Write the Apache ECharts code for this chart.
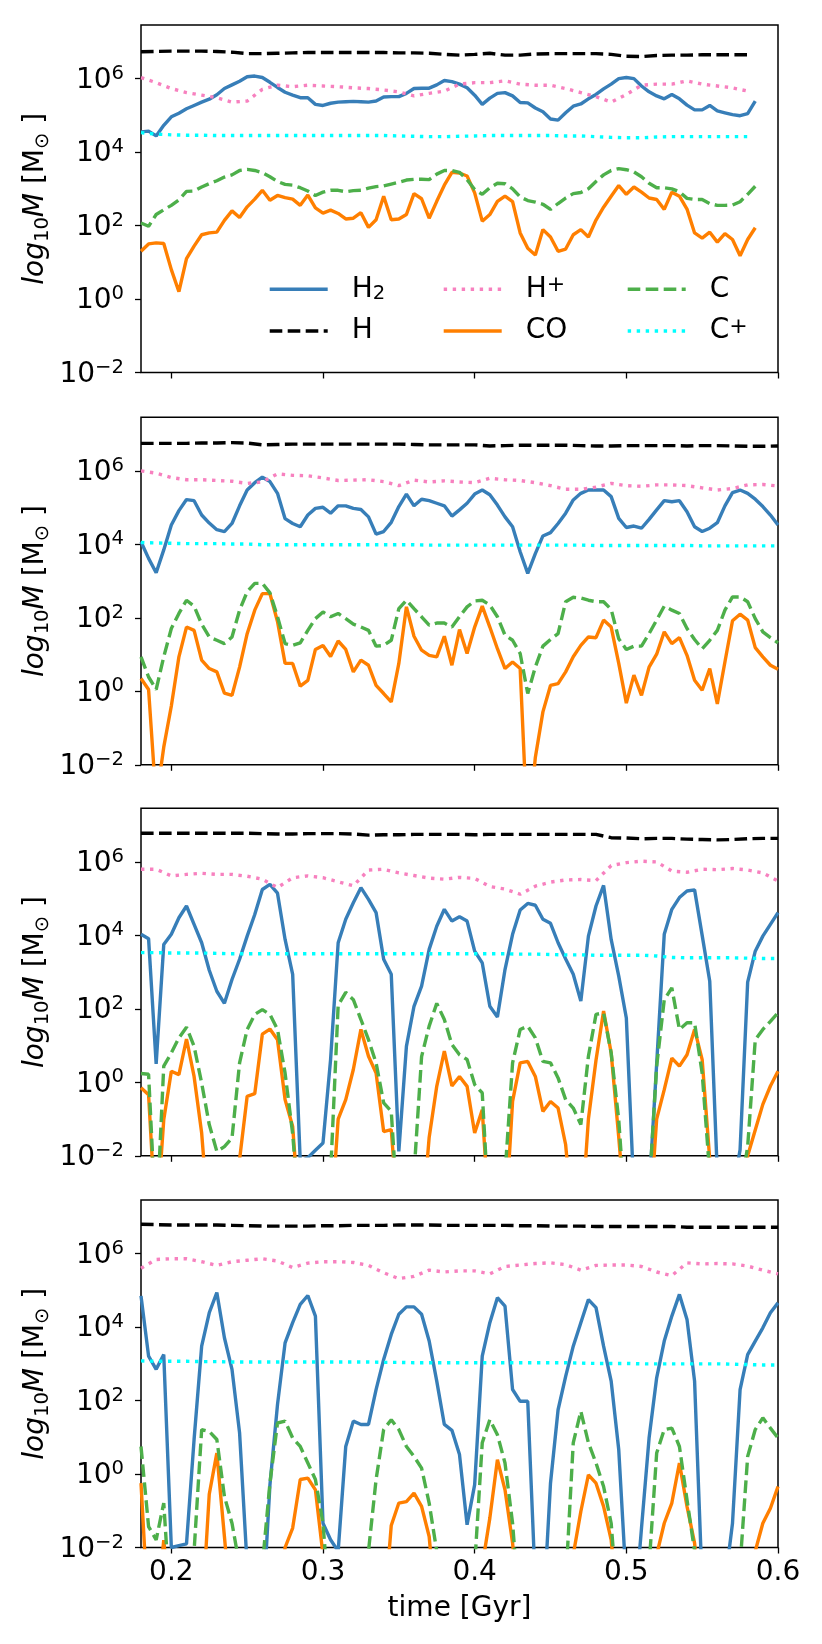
<!DOCTYPE html>
<html><head><meta charset="utf-8">
<script src="https://cdn.jsdelivr.net/npm/echarts@6/dist/echarts.min.js"></script>
<style>html,body{margin:0;padding:0;background:#fff}#c{width:822px;height:1644px}</style>
</head><body><div id="c"></div>
<script>
// time grids [Gyr]
const T5 = [0.18,0.185,0.19,0.195,0.2,0.205,0.21,0.215,0.22,0.225,0.23,0.235,0.24,0.245,0.25,0.255,0.26,0.265,0.27,0.275,
0.28,0.285,0.29,0.295,0.3,0.305,0.31,0.315,0.32,0.325,0.33,0.335,0.34,0.345,0.35,0.355,0.36,0.365,0.37,0.375,
0.38,0.385,0.39,0.395,0.4,0.405,0.41,0.415,0.42,0.425,0.43,0.435,0.44,0.445,0.45,0.455,0.46,0.465,0.47,0.475,
0.48,0.485,0.49,0.495,0.5,0.505,0.51,0.515,0.52,0.525,0.53,0.535,0.54,0.545,0.55,0.555,0.56,0.565,0.57,0.575,
0.58,0.585,0.59,0.595,0.6];
const T10 = [0.18,0.19,0.2,0.21,0.22,0.23,0.24,0.25,0.26,0.27,0.28,0.29,0.3,0.31,0.32,0.33,0.34,0.35,0.36,0.37,
0.38,0.39,0.4,0.41,0.42,0.43,0.44,0.45,0.46,0.47,0.48,0.49,0.5,0.51,0.52,0.53,0.54,0.55,0.56,0.57,0.58,0.59,0.6];

// x and y tick values
const xTicks = [0.2,0.3,0.4,0.5,0.6];
const yTicks = [-2,0,2,4,6];

// values are log10(M / Msun)
// ---- panel 1
const p1H2 = [4.55,4.57,4.44,4.73,4.96,5.06,5.18,5.27,5.36,5.44,5.56,5.73,5.83,5.93,6.05,6.07,6.03,5.9,5.76,5.63,
5.55,5.48,5.48,5.3,5.27,5.33,5.36,5.37,5.38,5.37,5.36,5.39,5.5,5.51,5.51,5.6,5.73,5.74,5.74,5.83,
5.95,5.92,5.85,5.75,5.55,5.30,5.47,5.6,5.62,5.53,5.35,5.34,5.2,5.1,4.9,4.87,5.07,5.25,5.31,5.45,
5.57,5.72,5.85,6.0,6.03,6.0,5.8,5.64,5.53,5.45,5.57,5.45,5.28,5.15,5.15,5.27,5.12,5.07,5.02,4.99,5.05,5.39];
const p1H = [6.73,6.74,6.75,6.75,6.75,6.74,6.72,6.68,6.68,6.69,6.70,6.71,6.71,6.71,6.71,6.71,6.71,6.70,6.70,6.69,
6.66,6.64,6.66,6.69,6.64,6.64,6.67,6.68,6.68,6.68,6.68,6.66,6.61,6.6,6.63,6.64,6.64,6.65,6.65,6.65,6.65];
const p1Hp = [6.03,5.89,5.73,5.62,5.55,5.48,5.36,5.39,5.71,5.82,5.78,5.82,5.80,5.78,5.75,5.73,5.69,5.64,5.53,5.60,
5.66,5.85,5.89,5.89,5.94,5.85,5.82,5.82,5.73,5.62,5.51,5.36,5.57,5.82,5.85,5.85,5.94,5.85,5.80,5.75,5.66];
const p1CO = [1.3,1.5,1.53,1.51,0.8,0.2,1.1,1.44,1.75,1.8,1.82,2.14,2.4,2.22,2.51,2.72,2.96,2.69,2.82,2.76,
2.72,2.55,2.83,2.48,2.34,2.42,2.33,2.18,2.2,2.35,1.95,2.16,2.8,2.16,2.18,2.3,2.87,2.73,2.2,2.66,
3.1,3.45,3.43,3.35,2.89,2.12,2.3,2.66,2.8,2.65,1.8,1.38,1.2,1.89,1.69,1.3,1.36,1.75,1.89,1.69,
2.15,2.5,2.8,3.09,2.85,3.05,2.91,2.75,2.71,2.44,2.91,2.8,2.45,1.8,1.66,1.82,1.55,1.78,1.62,1.18,1.62,1.94];
const p1C = [2.07,1.98,2.3,2.43,2.55,2.7,2.93,2.94,3.05,3.14,3.22,3.32,3.38,3.5,3.53,3.5,3.44,3.33,3.2,3.12,
3.1,3.03,2.94,2.82,2.91,2.96,2.96,2.92,2.95,2.96,3.02,3.06,3.08,3.13,3.18,3.24,3.26,3.26,3.25,3.4,
3.5,3.5,3.45,3.25,2.98,2.85,3.03,3.15,3.14,3.0,2.78,2.68,2.64,2.58,2.44,2.6,2.75,2.87,2.9,3.0,
3.2,3.38,3.5,3.55,3.52,3.46,3.33,3.15,3.03,3.03,3.0,2.92,2.74,2.71,2.71,2.6,2.55,2.55,2.56,2.65,2.85,3.07];
const p1Cp = [4.53,4.49,4.47,4.46,4.46,4.45,4.45,4.45,4.45,4.45,4.45,4.45,4.45,4.45,4.45,4.45,4.45,4.44,4.43,4.42,
4.42,4.43,4.44,4.45,4.45,4.45,4.45,4.45,4.44,4.44,4.42,4.4,4.39,4.39,4.41,4.42,4.42,4.42,4.42,4.42,4.42];

// ---- panel 2
const p2H2 = [4.07,3.62,3.23,3.85,4.53,4.92,5.22,5.19,4.8,4.58,4.4,4.35,4.57,5.05,5.48,5.68,5.83,5.71,5.39,4.7,
4.57,4.48,4.8,4.98,5.01,4.85,5.05,5.05,4.98,4.95,4.75,4.28,4.35,4.6,5.03,5.37,5.05,5.23,5.19,5.12,
5.05,4.77,4.94,5.12,5.37,5.48,5.35,5.07,4.75,4.48,3.8,3.21,3.75,4.23,4.32,4.57,4.85,5.21,5.39,5.48,
5.48,5.48,5.3,4.71,4.46,4.5,4.44,4.68,4.94,5.19,5.16,5.19,4.89,4.48,4.35,4.44,4.59,5.05,5.41,5.48,
5.39,5.23,5.03,4.8,4.53];
const p2H = [6.75,6.75,6.75,6.75,6.76,6.76,6.77,6.76,6.71,6.72,6.73,6.73,6.73,6.73,6.73,6.73,6.73,6.73,6.72,6.71,
6.71,6.71,6.71,6.68,6.69,6.7,6.7,6.7,6.7,6.69,6.68,6.68,6.69,6.69,6.69,6.69,6.68,6.69,6.69,6.68,6.67,6.67,6.68];
const p2Hp = [6.0,5.94,5.82,5.76,5.76,5.74,5.72,5.66,5.7,5.92,5.88,5.87,5.81,5.74,5.75,5.76,5.71,5.6,5.75,5.7,
5.73,5.7,5.68,5.8,5.76,5.74,5.68,5.6,5.5,5.5,5.56,5.66,5.6,5.58,5.62,5.62,5.6,5.54,5.48,5.52,5.62,5.63,5.59];
const p2CO = [0.35,0.05,-3.0,-1.52,-0.4,0.94,1.75,1.66,0.85,0.62,0.53,-0.05,-0.11,0.66,1.57,2.21,2.66,2.66,1.9,0.76,
0.76,0.14,0.3,1.14,1.25,0.95,1.37,1.14,0.53,0.85,0.71,0.16,-0.06,-0.29,0.76,2.3,1.5,1.12,0.98,0.94,
1.5,0.71,1.68,1.03,1.75,2.32,1.75,1.16,0.62,0.8,0.62,-4.0,-1.8,-0.56,0.16,0.21,0.53,0.94,1.25,1.48,
1.46,1.94,1.75,0.76,-0.32,0.44,-0.11,0.66,1.01,1.62,1.3,1.46,0.98,0.3,0.03,0.62,-0.34,0.8,1.92,2.1,
1.94,1.19,0.94,0.71,0.6];
const p2C = [0.94,0.39,0.05,0.94,1.71,2.12,2.48,2.32,1.83,1.48,1.39,1.3,1.48,2.21,2.71,2.94,2.94,2.68,2.03,1.3,
1.25,1.32,1.66,1.98,2.16,2.03,2.12,1.98,1.83,1.75,1.66,1.23,1.25,1.39,2.25,2.48,2.25,2.03,1.8,1.86,
1.86,1.75,2.03,2.3,2.46,2.48,2.35,2.03,1.53,1.39,1.03,-0.06,0.66,1.23,1.41,1.57,2.44,2.56,2.54,2.48,
2.44,2.44,2.23,1.43,1.14,1.23,1.23,1.57,1.94,2.32,2.21,2.12,1.71,1.41,1.16,1.39,1.66,2.21,2.57,2.57,
2.44,1.98,1.62,1.46,1.32];
const p2Cp = [4.05,4.04,4.03,4.02,4.02,4.02,4.01,4.01,3.99,3.99,3.99,3.99,3.99,3.99,3.99,3.99,3.99,3.99,3.99,3.98,
3.98,3.98,3.98,3.98,3.98,3.98,3.98,3.98,3.98,3.98,3.97,3.97,3.97,3.97,3.97,3.97,3.97,3.96,3.96,3.96,3.96,3.96,3.96];

// ---- panel 3
const p3H2 = [4.03,3.91,0.5,3.75,4.03,4.48,4.8,4.3,3.8,3.05,2.48,2.15,2.8,3.35,3.98,4.57,5.25,5.39,5.15,3.89,
2.94,-2.15,-2.05,-1.85,-1.65,0.62,3.8,4.44,4.89,5.3,4.98,4.62,3.35,2.94,-1.88,0.98,2.07,2.62,3.62,4.25,
4.71,4.39,4.51,4.39,3.57,3.25,2.07,1.78,3.07,4.03,4.69,4.87,4.82,4.44,4.33,3.8,3.36,2.94,2.21,3.98,
4.8,5.36,3.89,2.89,1.75,-3,-4,-3,0.5,4.03,4.71,5.03,5.21,5.24,4.0,2.75,-2.5,-4,-3,-1.84,
2.73,3.57,3.98,4.3,4.62];
const p3H = [6.78,6.78,6.78,6.78,6.78,6.78,6.78,6.78,6.77,6.76,6.76,6.77,6.77,6.77,6.76,6.73,6.74,6.74,6.75,6.75,
6.75,6.75,6.74,6.75,6.75,6.75,6.75,6.75,6.75,6.75,6.75,6.66,6.65,6.63,6.64,6.64,6.62,6.61,6.6,6.61,6.63,6.64,6.64];
const p3Hp = [5.8,5.8,5.62,5.66,5.69,5.66,5.66,5.61,5.53,5.3,5.57,5.62,5.57,5.46,5.35,5.78,5.8,5.7,5.63,5.56,
5.53,5.58,5.55,5.33,5.26,5.12,5.34,5.45,5.51,5.52,5.49,5.9,5.98,6.02,6.0,5.75,5.72,5.8,5.79,5.82,5.78,5.7,5.48];
const p3CO = [-0.15,-0.34,-4,-1.02,0.3,0.21,1.18,0.16,-1.38,-4,-4,-4,-4,-2.1,-0.38,-0.31,1.31,1.45,1.16,-0.47,
-1.2,-4,-4,-4,-4,-4,-1.0,-0.47,0.35,1.44,0.71,0.25,-1.34,-1.29,-4,-4,-4,-4,-1.5,-0.11,
0.85,-0.1,0.16,-0.11,-1.38,-0.75,-4,-4,-4,-0.52,0.53,0.57,0.16,-0.79,-0.52,-0.7,-1.7,-4,-4,-1.0,
0.6,1.94,0.8,-1.5,-4,-4,-4,-4,-1.0,-0.2,0.66,0.44,0.75,1.44,0.62,-2.1,-4,-4,-4,-4,
-2.0,-1.3,-0.6,-0.1,0.3];
const p3C = [0.24,0.22,-4,0.44,0.8,1.21,1.5,0.98,-0.02,-1.15,-1.88,-1.75,-1.52,0.53,1.44,1.85,1.98,1.85,1.44,0.25,
-1.4,-4,-4,-4,-4,-2.5,2.1,2.45,2.25,1.71,1.16,0.53,-0.56,-0.79,-4,-4,-2.5,0.7,1.53,2.15,
1.71,1.03,0.75,0.62,-0.06,-0.29,-4,-4,-2.5,0.53,1.44,1.53,1.21,0.57,0.53,0.12,-0.47,-0.7,-1.15,0.71,
1.85,1.89,0.8,-1.02,-4,-4,-4,-3,0.44,2.25,2.57,1.44,1.62,1.62,0.25,-2.5,-4,-4,-4,-3,
-1.75,1.16,1.44,1.66,1.89];
const p3Cp = [3.53,3.53,3.52,3.52,3.52,3.51,3.5,3.5,3.5,3.5,3.5,3.5,3.5,3.5,3.5,3.5,3.5,3.5,3.5,3.5,
3.5,3.5,3.5,3.5,3.5,3.49,3.49,3.48,3.47,3.47,3.46,3.46,3.46,3.46,3.44,3.4,3.39,3.39,3.39,3.39,3.38,3.37,3.37];

// ---- panel 4
const p4H2 = [4.85,3.21,2.85,3.25,-2.0,-1.95,-1.9,0.94,3.48,4.39,4.94,3.71,2.85,1.12,-2.5,-4,-4,-0.3,1.89,3.57,
4.12,4.62,4.86,4.3,-1.34,-1.79,-2.1,0.75,1.44,1.35,1.35,2.3,3.12,3.8,4.35,4.55,4.55,4.35,3.62,2.53,
1.35,1.19,0.53,-1.38,-0.29,3.21,4.12,4.8,4.57,2.3,1.98,1.98,-3,-4,-0.25,1.75,2.66,3.48,4.12,4.75,
4.53,3.48,2.53,0.66,-3,-4,-1.47,0.98,2.62,3.62,4.3,4.89,4.21,2.53,-3,-4,-4,-3,-1.34,2.3,
3.25,3.62,3.98,4.39,4.66];
const p4H = [6.8,6.79,6.78,6.78,6.78,6.78,6.77,6.76,6.75,6.75,6.75,6.75,6.76,6.76,6.77,6.77,6.77,6.78,6.78,6.78,
6.77,6.77,6.77,6.77,6.77,6.76,6.76,6.75,6.75,6.75,6.74,6.74,6.74,6.74,6.74,6.74,6.72,6.72,6.72,6.72,6.72,6.72,6.72];
const p4Hp = [5.6,5.84,5.86,5.86,5.78,5.68,5.78,5.82,5.86,5.8,5.62,5.74,5.78,5.78,5.76,5.68,5.48,5.32,5.38,5.55,
5.5,5.53,5.53,5.45,5.65,5.69,5.73,5.75,5.7,5.55,5.68,5.69,5.69,5.65,5.5,5.4,5.75,5.72,5.73,5.72,5.66,5.55,5.45];
const p4CO = [-0.25,-4,-4,-1.8,-4,-4,-4,-4,-4,-0.55,0.57,-1.7,-4,-4,-4,-4,-4,-4,-4,-2.0,
-1.47,-0.15,-0.11,-0.43,-2.2,-4,-4,-4,-4,-4,-4,-4,-4,-1.4,-0.79,-0.75,-0.52,-0.88,-1.7,-4,
-4,-4,-4,-4,-4,-2.5,-1.2,0.39,-0.43,-1.88,-4,-4,-4,-4,-4,-4,-4,-2.2,-1.02,-0.02,
-0.25,-0.88,-1.79,-4,-4,-4,-4,-4,-2.2,-1.34,-0.79,0.3,-0.88,-1.88,-4,-4,-4,-4,-4,-4,
-4,-2.1,-1.34,-0.93,-0.34];
const p4C = [0.75,-1.43,-1.79,-0.79,-4,-4,-4,-2.1,1.21,1.16,0.94,-0.61,-1.34,-2.5,-4,-4,-2.5,-0.25,1.39,1.44,
0.98,0.75,0.3,-0.15,-1.34,-4,-4,-4,-4,-4,-2.1,-0.15,1.21,1.48,1.21,0.75,0.48,0.16,-0.79,-2.1,
-4,-4,-4,-4,-2.5,0.85,1.48,1.07,0.3,-1.34,-4,-4,-4,-4,-4,-4,-3,0.85,1.71,0.85,
0.3,-0.34,-1.34,-4,-4,-4,-4,-2.5,0.57,1.21,1.25,0.75,-0.7,-2.1,-4,-4,-4,-4,-4,-2.5,
0.48,1.21,1.53,1.25,0.98];
const p4Cp = [3.08,3.07,3.07,3.07,3.06,3.06,3.05,3.05,3.05,3.05,3.05,3.05,3.05,3.05,3.05,3.05,3.04,3.04,3.03,3.03,
3.03,3.03,3.03,3.03,3.03,3.03,3.03,3.03,3.03,3.02,3.01,3.01,3.01,3.0,3.0,3.0,3.0,3.0,3.0,2.99,2.98,2.97,2.97];

// series (plot order): H2, H, H+, CO, C, C+
const seriesNames = ['H2','H','H+','CO','C','C+'];
const seriesLabels = ['{g|}H{sub|2}','{g|}H','{g|}H{sup|+}','{g|}CO','{g|}C','{g|}C{sup|+}'];
const seriesColors = ['#377eb8','#000000','#f781bf','#ff7f00','#4daf4a','#00ffff'];
const DASH = [12.6,5.4], DOT = [3.4,5.6];
const seriesDash = ['solid',DASH,DOT,'solid',DASH,DOT];
const seriesGrid = [T5,T10,T10,T5,T5,T10];
const panelData = [
  [p1H2,p1H,p1Hp,p1CO,p1C,p1Cp],
  [p2H2,p2H,p2Hp,p2CO,p2C,p2Cp],
  [p3H2,p3H,p3Hp,p3CO,p3C,p3Cp],
  [p4H2,p4H,p4Hp,p4CO,p4C,p4Cp]
];

const FONT = 'DejaVu Sans';
const FS = 28, FSS = 19.6;
const gridTops = [25, 417.3, 808.3, 1200];
const GL = 141, GW = 637, GH = 347.5;

const grids = [], xAxes = [], yAxes = [], series = [];
gridTops.forEach((top, i) => {
  grids.push({left: GL, top: top, width: GW, height: GH, show: true, borderColor: '#000', borderWidth: 1.5,
    backgroundColor: 'transparent', containLabel: false, outerBoundsMode: 'none'});
  const last = i === gridTops.length - 1;
  xAxes.push({
    type: 'value', gridIndex: i, min: 0.18, max: 0.6, position: 'bottom',
    axisLine: {show: false, onZero: false},
    axisTick: {show: true, length: 6, inside: false, customValues: xTicks, lineStyle: {color: '#000', width: 1.3}},
    axisLabel: {show: last, customValues: xTicks, margin: 10, color: '#000', fontFamily: FONT, fontSize: FS,
      lineHeight: 30, formatter: v => v.toFixed(1)},
    splitLine: {show: false},
    name: last ? 'time [Gyr]' : '', nameLocation: 'middle', nameGap: 46, nameMoveOverlap: false,
    nameTextStyle: {color: '#000', fontFamily: FONT, fontSize: FS, lineHeight: 30}
  });
  yAxes.push({
    type: 'value', gridIndex: i, min: -2, max: 7.46, position: 'left',
    axisLine: {show: false, onZero: false},
    axisTick: {show: true, length: 6, inside: false, customValues: yTicks, lineStyle: {color: '#000', width: 1.3}},
    axisLabel: {show: true, customValues: yTicks, margin: 17, color: '#000', fontFamily: FONT,
      formatter: v => '{b|10}{e|' + (v < 0 ? '\u2212' + (-v) : v) + '}',
      rich: {
        b: {fontFamily: FONT, fontSize: FS, lineHeight: 30, padding: [4,0,0,0], color: '#000'},
        e: {fontFamily: FONT, fontSize: FSS, lineHeight: 21, verticalAlign: 'top', color: '#000'}
      }},
    splitLine: {show: false},
    name: '{i|log}{s|10}{i|M}{n| [M}{s|\u2299}{n| ]}', nameLocation: 'middle', nameRotate: 90, nameGap: 88,
    nameMoveOverlap: false,
    nameTextStyle: {color: '#000', fontFamily: FONT, fontSize: FS,
      rich: {
        i: {fontFamily: FONT, fontStyle: 'italic', fontSize: FS, lineHeight: 34, color: '#000'},
        n: {fontFamily: FONT, fontSize: FS, lineHeight: 34, color: '#000'},
        s: {fontFamily: FONT, fontSize: FSS, lineHeight: 14, verticalAlign: 'bottom', color: '#000'}
      }}
  });
  panelData[i].forEach((vals, s) => {
    const grid = seriesGrid[s];
    series.push({
      type: 'line', name: seriesNames[s], xAxisIndex: i, yAxisIndex: i,
      data: vals.map((v, k) => [grid[k], v]),
      symbol: 'none', showSymbol: false, clip: true, smooth: false,
      lineStyle: {color: seriesColors[s], width: 3.4, type: seriesDash[s], cap: 'butt'},
      itemStyle: {color: seriesColors[s]},
      emphasis: {disabled: true}, silent: true, z: 2 + s * 0.01
    });
  });
});

// legend: 3 columns x 2 rows inside panel 1 (matplotlib column-major order)
const legCols = [268, 442, 626], legRows = [274.3, 316];
const legends = seriesNames.map((nm, s) => ({
  data: [nm], left: legCols[Math.floor(s / 2)], top: legRows[s % 2], padding: 0,
  itemWidth: 58, itemHeight: 14, selectedMode: false,
  itemStyle: {opacity: 0, borderWidth: 0},
  lineStyle: {width: 3.4},
  formatter: () => seriesLabels[s],
  textStyle: {color: '#000', fontFamily: FONT, fontSize: FS, lineHeight: 30,
    rich: {
      g: {width: 19},
      sub: {fontFamily: FONT, fontSize: FSS, lineHeight: 13, verticalAlign: 'bottom', color: '#000'},
      sup: {fontFamily: FONT, fontSize: 22, lineHeight: 12, verticalAlign: 'top', color: '#000'}
    }}
}));

const chart = echarts.init(document.getElementById('c'), null, {renderer: 'canvas', width: 822, height: 1644});
chart.setOption({
  animation: false,
  backgroundColor: '#fff',
  grid: grids, xAxis: xAxes, yAxis: yAxes, legend: legends, series: series
});
</script></body></html>
